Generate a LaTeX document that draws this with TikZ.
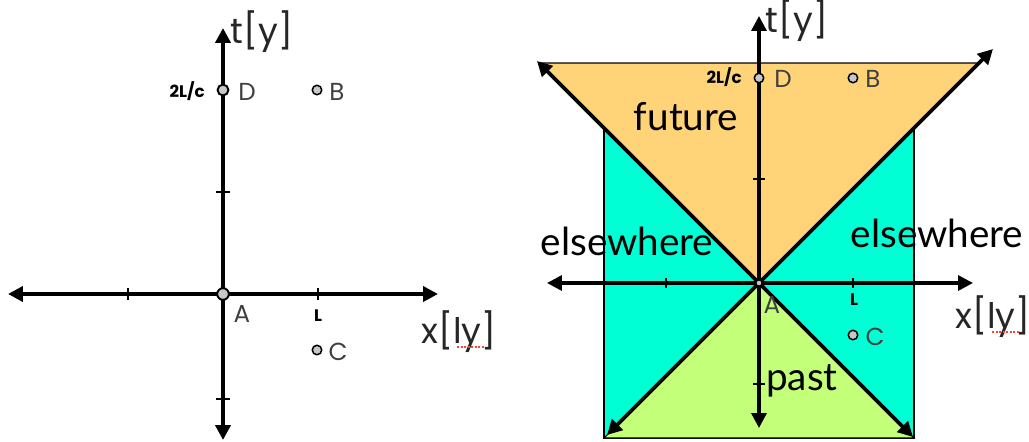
\documentclass[tikz,border=0pt]{standalone}
\usepackage{fontspec}
\usetikzlibrary{arrows.meta}
\newfontfamily\geofont{Poppins}
\newfontfamily\gillfont{Lato}
\definecolor{futurecol}{HTML}{FFD479}
\definecolor{elsecol}{HTML}{00FFD4}
\definecolor{pastcol}{HTML}{C3FF78}
\tikzset{
  axisline/.style={line width=2.2pt,{Triangle[length=8.5pt,width=8.5pt]}-{Triangle[length=8.5pt,width=8.5pt]}},
  tickmark/.style={line width=1.5pt},
  evpt/.style={circle,draw,line width=0.85pt,fill=black!22,inner sep=0pt,minimum size=5.4pt},
  evlabel/.style={font=\geofont\fontsize{14}{16}\selectfont,text=black!75,anchor=base},
  axlabel/.style={font=\geofont\fontsize{20}{24}\selectfont,text=black!85,anchor=base},
  smalllabel/.style={font=\geofont\bfseries\fontsize{9.5}{11}\selectfont,anchor=base},
  region/.style={font=\gillfont\fontsize{22}{26}\selectfont,anchor=base},
  spell/.style={red!75,line width=0.9pt,dash pattern=on 1.2pt off 0.8pt}
}
\begin{document}
\begin{tikzpicture}[x=0.02cm,y=0.02cm]
        \useasboundingbox (0,0) rectangle (1029,441);
        % left diagram
        \coordinate (xl1) at (8,147);
        \coordinate (xr1) at (438,147);
        \coordinate (tb1) at (223,1);
        \coordinate (tt1) at (223,413);
        \draw[axisline] (xl1) -- (xr1);
        \draw[axisline] (tb1) -- (tt1);
        \foreach \x in {128,318} \draw[tickmark] (\x,141) -- (\x,153);
        \foreach \y in {42,249} \draw[tickmark] (216,\y) -- (230,\y);
        \node[evpt,minimum size=6.6pt,line width=1.1pt] (A1) at (223,147) {};
        \node[evpt,minimum size=6.2pt,line width=1.1pt] (D1) at (223,351) {};
        \node[evpt] (B1) at (317,351) {};
        \node[evpt] (C1) at (317,91) {};
        \node[axlabel] (t1) at (262,398) {t[y]};
        \node[axlabel] (x1) at (459,98) {x[ly]};
        \draw[spell] (457,94) -- (485,94);
        \node[smalllabel,anchor=base east] (tD1) at (211,344) {2L/c};
        \node[smalllabel] (L1) at (318,120) {L};
        \node[evlabel] (lA1) at (242,119) {A};
        \node[evlabel] (lB1) at (337,341) {B};
        \node[evlabel] (lC1) at (338,81) {C};
        \node[evlabel] (lD1) at (247,341) {D};
        % right diagram
        \draw[line width=0.6pt,fill=elsecol] (604,3) rectangle (914,313);
        \draw[line width=0.6pt,fill=pastcol] (759,158) -- (604,3) -- (914,3) -- cycle;
        \draw[line width=0.6pt,fill=futurecol] (759,158) -- (539,378) -- (979,378) -- cycle;
        \node[region] (fut) at (686,311) {future};
        \node[region] (elsL) at (627,186) {elsewhere};
        \node[region] (elsR) at (937,194) {elsewhere};
        \node[region] (pst) at (802,51) {past};
        \coordinate (xl2) at (547,158);
        \coordinate (xr2) at (973,158);
        \coordinate (tb2) at (759,13);
        \coordinate (tt2) at (759,425);
        \coordinate (bl2) at (607,6);
        \coordinate (tr2) at (993,392);
        \coordinate (tl2) at (537,380);
        \coordinate (br2) at (913,4);
        \draw[axisline,line width=1.9pt] (xl2) -- (xr2);
        \draw[axisline,line width=1.9pt] (tb2) -- (tt2);
        \draw[axisline] (bl2) -- (tr2);
        \draw[axisline] (tl2) -- (br2);
        \foreach \x in {666,853} \draw[tickmark,line width=1.3pt] (\x,153) -- (\x,163);
        \foreach \y in {57,262} \draw[tickmark,line width=1.3pt] (753,\y) -- (765,\y);
        \node[evpt,minimum size=3.4pt,line width=0.6pt] (A2) at (759,158) {};
        \node[evpt] (D2) at (759,363) {};
        \node[evpt] (B2) at (853,363) {};
        \node[evpt] (C2) at (853,106) {};
        \node[axlabel] (t2) at (797,409) {t[y]};
        \node[axlabel] (x2) at (993,113) {x[ly]};
        \draw[spell] (992,109) -- (1020,109);
        \node[smalllabel,anchor=base east] (tD2) at (748,358) {2L/c};
        \node[smalllabel] (L2) at (854,136) {L};
        \node[evlabel] (lA2) at (772,128) {A};
        \node[evlabel] (lB2) at (873,354) {B};
        \node[evlabel] (lC2) at (875,96) {C};
        \node[evlabel] (lD2) at (783,354) {D};
      \end{tikzpicture}
\end{document}
